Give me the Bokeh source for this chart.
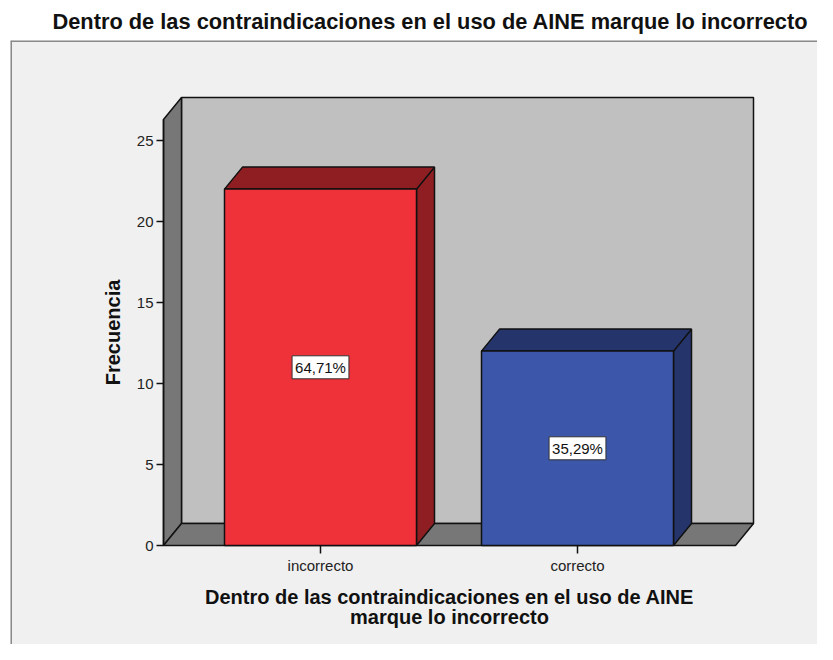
from math import pi
from bokeh.plotting import figure
from bokeh.models import FixedTicker, Label, Span, Range1d
from bokeh.embed import file_html
from bokeh.resources import INLINE
from bokeh.core.properties import value

# ---------------- data ----------------
title_text = "Dentro de las contraindicaciones en el uso de AINE marque lo incorrecto"
x_label = "Dentro de las contraindicaciones en el uso de AINE\nmarque lo incorrecto"
y_label = "Frecuencia"
categories = ["incorrecto", "correcto"]
counts = [22, 12]
pct_labels = ["64,71%", "35,29%"]
y_ticks = [0, 5, 10, 15, 20, 25]

# ---------------- styling ----------------
front_colors = ["#ef3139", "#3c56a9"]
dark_colors = ["#8e1e22", "#25356b"]
FONT = "Liberation Sans"
EDGE = "#111111"

# ---------------- layout (pixels) ----------------
W, H = 817, 644
BL, BT = 10, 40
PXX, PXY = 257.0, 16.2          # pixels per x unit / per y unit
cx1_px, y0_px = 310.0, 505.0    # first category centre / zero line, from frame left / top
fw, fh = W - BL, H - BT
xpos = [i + 1 for i in range(len(categories))]
x_start = 1 - cx1_px / PXX
x_end = x_start + fw / PXX
y_end = y0_px / PXY
y_start = y_end - fh / PXY
DX, DY = 18 / PXX, 22 / PXY     # 3-D depth offset
bar_w = 192 / PXX
x0 = xpos[0] - 157 / PXX        # front-left edge of floor (axis)
x1 = xpos[-1] + 158 / PXX       # front-right edge of floor
y_top = 26.3                    # top of the value axis

p = figure(width=W, height=H, output_backend="svg", toolbar_location=None,
           x_range=Range1d(x_start, x_end), y_range=Range1d(y_start, y_end),
           min_border_left=BL, min_border_right=0, min_border_top=BT, min_border_bottom=0,
           background_fill_color="#f0f0f0", border_fill_color="white",
           outline_line_color=None)

p.title.text = title_text
p.title.align = "left"
p.title.offset = 42
p.title.text_font = FONT
p.title.text_font_size = "21.8px"
p.title.text_font_style = "bold"
p.title.text_color = "#111111"
p.title.standoff = 13

p.xgrid.visible = False
p.ygrid.visible = False

# frame border (top / left)
p.add_layout(Span(location=x_start, dimension="height", line_color="#8a8a8a", line_width=3))
p.add_layout(Span(location=y_end, dimension="width", line_color="#8a8a8a", line_width=3))

# ---------------- 3-D box: back wall, side wall, floor ----------------
p.quad(left=[x0 + DX], right=[x1 + DX], bottom=[DY], top=[y_top + DY],
       fill_color="#c0c0c0", line_color=EDGE, line_width=1.5)
p.patch([x0, x0, x0 + DX, x0 + DX], [0, y_top, y_top + DY, DY],
        fill_color="#777777", line_color=EDGE, line_width=1.5)
p.patch([x0, x1, x1 + DX, x0 + DX], [0, 0, DY, DY],
        fill_color="#777777", line_color=EDGE, line_width=1.5)

# ---------------- bars ----------------
lefts = [c - bar_w / 2 for c in xpos]
rights = [c + bar_w / 2 for c in xpos]
top_xs = [[l, r, r + DX, l + DX] for l, r in zip(lefts, rights)]
top_ys = [[v, v, v + DY, v + DY] for v in counts]
side_xs = [[r, r, r + DX, r + DX] for r in rights]
side_ys = [[0, v, v + DY, DY] for v in counts]

p.patches(side_xs, side_ys, fill_color=dark_colors, line_color=EDGE, line_width=1.5)
p.patches(top_xs, top_ys, fill_color=dark_colors, line_color=EDGE, line_width=1.5)
p.quad(left=lefts, right=rights, bottom=0, top=counts,
       fill_color=front_colors, line_color=EDGE, line_width=1.5)

p.text(x=xpos, y=[v / 2 for v in counts], text=pct_labels,
       text_align="center", text_baseline="middle",
       text_font=value(FONT), text_font_size="15px", text_color="#111111",
       background_fill_color="white", border_line_color="#333333",
       border_line_width=1, padding=3)

# ---------------- axes ----------------
yax = p.yaxis[0]
yax.fixed_location = x0
yax.bounds = (0, y_top)
yax.ticker = FixedTicker(ticks=y_ticks)
yax.axis_line_color = EDGE
yax.axis_line_width = 1.5
yax.major_tick_line_color = EDGE
yax.major_tick_line_width = 1.5
yax.major_tick_out = 7
yax.major_tick_in = 0
yax.minor_tick_out = 0
yax.minor_tick_in = 0
yax.major_label_standoff = 3
yax.major_label_text_font = FONT
yax.major_label_text_font_size = "15px"
yax.major_label_text_color = "#222222"

xax = p.xaxis[0]
xax.fixed_location = 0
xax.bounds = (x0, x1)
xax.ticker = FixedTicker(ticks=xpos)
xax.major_label_overrides = {c: lab for c, lab in zip(xpos, categories)}
xax.axis_line_color = None
xax.major_tick_line_color = EDGE
xax.major_tick_line_width = 1.5
xax.major_tick_out = 8
xax.major_tick_in = 0
xax.minor_tick_out = 0
xax.minor_tick_in = 0
xax.major_label_standoff = 3
xax.major_label_text_font = FONT
xax.major_label_text_font_size = "15px"
xax.major_label_text_color = "#222222"

# ---------------- axis titles ----------------
p.add_layout(Label(x=x0 - 51 / PXX, y=y_top / 2, text=y_label, angle=pi / 2,
                   text_align="center", text_baseline="middle",
                   text_font=FONT, text_font_size="20px", text_font_style="bold",
                   text_color="#111111"))
p.add_layout(Label(x=(x0 + x1) / 2, y=-40 / PXY, text=x_label,
                   text_align="center", text_baseline="top", text_line_height=0.95,
                   text_font=FONT, text_font_size="20px", text_font_style="bold",
                   text_color="#111111"))

open("out.html", "w").write(file_html(p, INLINE))
